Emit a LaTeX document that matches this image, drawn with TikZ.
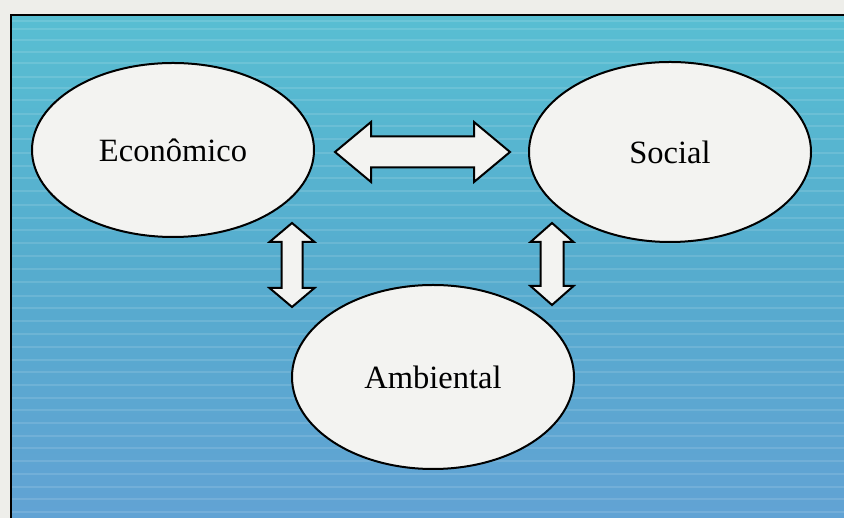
\documentclass[tikz,border=0pt]{standalone}
\usepackage{fontspec}
\setmainfont{Liberation Serif}
\usetikzlibrary{shapes.geometric}
\definecolor{pagebg}{RGB}{238,238,234}
\definecolor{bgtop}{RGB}{88,190,210}
\definecolor{bgmid}{RGB}{86,172,206}
\definecolor{bgbot}{RGB}{98,162,212}
\definecolor{ovalfill}{RGB}{243,243,241}
\tikzset{
  oval/.style={ellipse, draw=black, line width=1pt, fill=ovalfill, inner sep=0pt,
    font=\fontsize{16.25pt}{19pt}\selectfont},
  blockarrow/.style={draw=black, line width=1pt, fill=ovalfill, line join=miter}
}
\newcommand{\dblarr}[7]{%
  \begin{scope}[shift={(#1,#2)},rotate=#3]
    \draw[blockarrow] (-#4,0) -- (-#4+#5,#6) -- (-#4+#5,#7) -- (#4-#5,#7) -- (#4-#5,#6)
      -- (#4,0) -- (#4-#5,-#6) -- (#4-#5,-#7) -- (-#4+#5,-#7) -- (-#4+#5,-#6) -- cycle;
  \end{scope}}
\begin{document}
\begin{tikzpicture}[x=0.5pt,y=0.5pt]
  \useasboundingbox (0,0) rectangle (844,518);
  \clip (0,0) rectangle (844,518);
  \fill[pagebg] (0,0) rectangle (844,518);
  \shade[top color=bgtop, bottom color=bgbot, middle color=bgmid] (11,-10) rectangle (860,503);
  \foreach \yy in {497,489,478,466,455,441,430,418,404,392,379,365,352,340,327,313,300,288,275,262,249,236,222,210,197,184,171,158,146,133,120,108,95,82,70,57,44,31,19,6}
    \draw[white, opacity=0.12, line width=0.8pt] (12,\yy) -- (844,\yy);
  \draw[black, line width=1.1pt] (11,-10) -- (11,503) -- (860,503);

  \node[oval, minimum width=141pt, minimum height=87pt] (eco) at (173,368) {Econômico};
  \node[oval, minimum width=141pt, minimum height=90pt] (soc) at (670,366) {Social};
  \node[oval, minimum width=141pt, minimum height=92pt] (amb) at (433,141) {Ambiental};

  \dblarr{422.5}{366}{0}{87.5}{36}{30}{15.5}
  \dblarr{292}{253}{90}{42}{19}{22.5}{10.5}
  \dblarr{552}{254}{90}{41}{19}{21.5}{11.5}
\end{tikzpicture}
\end{document}
